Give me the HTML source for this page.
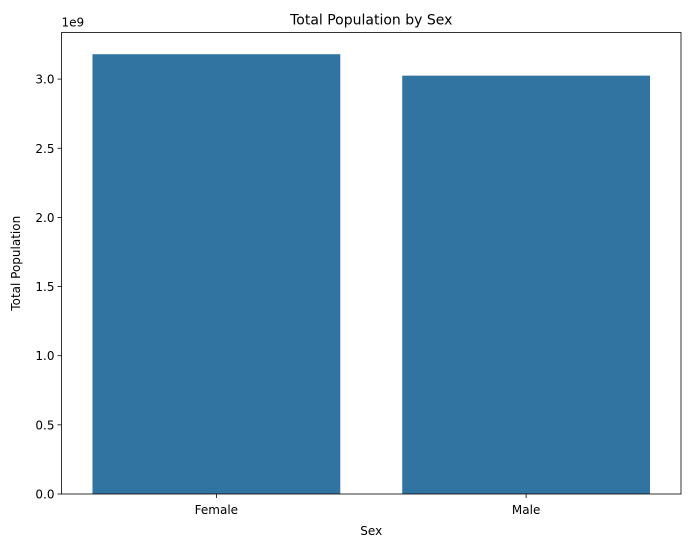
<!DOCTYPE html>
<html><head><meta charset="utf-8"><style>
body{margin:0;background:#fff;font-family:"Liberation Sans","DejaVu Sans",sans-serif}
</style></head><body>
<svg id="c" width="691" height="547" style="font-family:'DejaVu Sans','Liberation Sans',sans-serif"></svg>
<script>
const categories=["Female","Male"];
const values=[3.18e9,3.025e9];
const yTicks=[0,0.5,1.0,1.5,2.0,2.5,3.0];
const L=61.5,R=681,T=32.5,B=494,yMax=3.337e9;
const NS="http://www.w3.org/2000/svg",svg=document.getElementById('c');
function y(v){return B-(v/yMax)*(B-T);}
const band=(R-L)/categories.length;
function x(i){return L+band*(i+0.5);}
function mk(t,a,txt){const e=document.createElementNS(NS,t);for(const k in a)e.setAttribute(k,a[k]);if(txt!=null)e.textContent=txt;svg.appendChild(e);return e;}
categories.forEach((c,i)=>{
 const w=band*0.8;
 const r=mk('rect',{x:x(i)-w/2,y:y(values[i]),width:w,height:B-y(values[i]),fill:'#3274a1'});
 
 
 mk('line',{x1:x(i),x2:x(i),y1:B,y2:B+4,stroke:'#000','stroke-width':0.8});
 const t=mk('text',{x:x(i),y:B+20,'text-anchor':'middle','font-size':12},c);
 
 
});
yTicks.forEach(v=>{
 mk('line',{x1:L-4,x2:L,y1:y(v*1e9),y2:y(v*1e9),stroke:'#000','stroke-width':0.8});
 const t=mk('text',{x:L-7,y:y(v*1e9)+4.5,'text-anchor':'end','font-size':12},v.toFixed(1));
 
 
});
mk('rect',{x:L,y:T,width:R-L,height:B-T,fill:'none',stroke:'#000','stroke-width':0.8});
let t;
t=mk('text',{x:L,y:T-6,'font-size':12},'1e9');
t=mk('text',{x:(L+R)/2,y:T-8,'text-anchor':'middle','font-size':14},'Total Population by Sex');
t=mk('text',{x:(L+R)/2,y:535,'text-anchor':'middle','font-size':12},'Sex');
t=mk('text',{x:20,y:(T+B)/2,'text-anchor':'middle','font-size':12,transform:'rotate(-90 20 '+((T+B)/2)+')'},'Total Population');
</script>
</body></html>
